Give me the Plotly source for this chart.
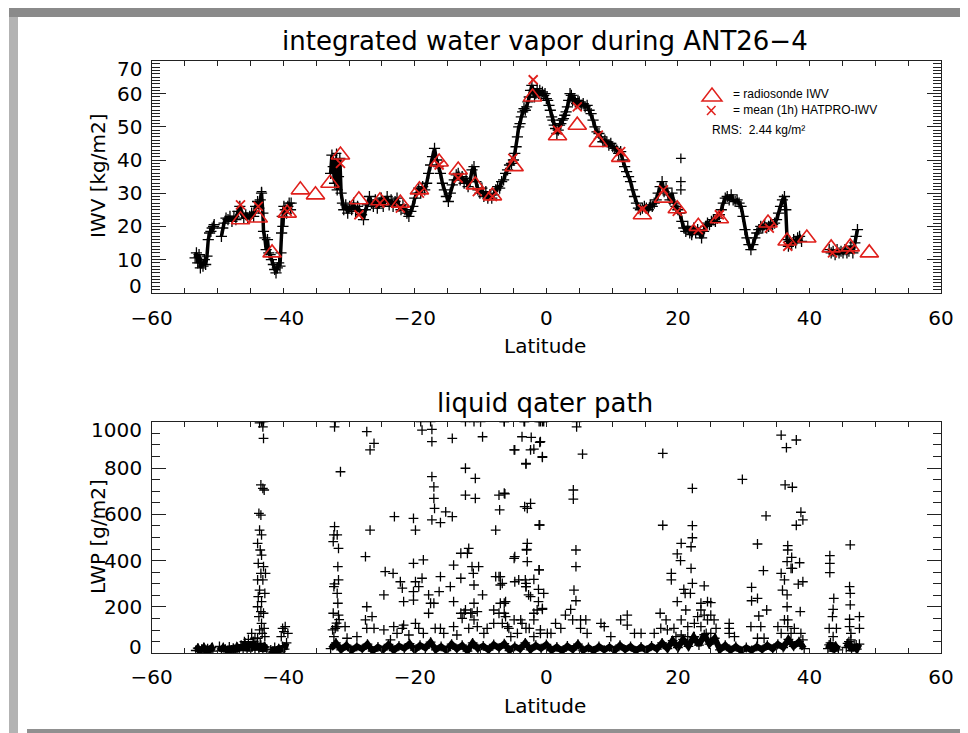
import plotly.graph_objects as go

# window is 968x733; the page puts the figure 8 px from the top-left corner
OFF = 8
W, H = 968 - OFF, 733 - OFF


def fx(p):
    return (p - OFF) / W


def fy(p):
    return 1 - (p - OFF) / H


# ---------------- IWV (HATPRO, black plus markers) ----------------
iwv_lat = [
    -53.4, -53.2, -53.0, -52.8, -52.6, -52.4, -52.2, -52.0, -51.8, -51.6, -51.4, -51.2, -51.0, -50.8, -50.6, -50.5,
    None,
    -49.4, -49.2, -49.0, -48.7, -48.4, -48.1, -47.8, -47.5, -47.2, -46.9, -46.6, -46.3, -46.0, -45.7, -45.4, -45.1,
    -44.8, -44.5, -44.2, -43.9, -43.7, -43.5, -43.3, -43.1, -43.0, -42.8, -42.6, -42.4, -42.2, -42.0, -41.8, -41.5,
    -41.3, -41.1, -40.9, -40.7, -40.5, -40.35, -40.25, -40.15, -40.05, -39.9, -39.7, -39.5, -39.3, -39.1, -38.9, -38.8,
    None,
    -32.8, -32.6, -32.4, -32.2, -32.0, -31.8, -31.6, -31.4, -31.2, -31.0, -30.8, -30.5, -30.2, -29.9, -29.6, -29.3,
    -29.0, -28.7, -28.4, -28.1, -27.8, -27.5, -27.2, -26.9, -26.6, -26.3, -26.0, -25.7, -25.4, -25.1, -24.8, -24.5,
    -24.2, -23.9, -23.6, -23.3, -23.0, -22.7, -22.4, -22.1, -21.8, -21.5, -21.2, -20.9, -20.6, -20.3, -20.0, -19.7,
    -19.4, -19.1, -18.8, -18.5, -18.2, -17.9, -17.6, -17.3, -17.0, -16.7, -16.4, -16.1, -15.8, -15.5, -15.2, -14.9,
    -14.6, -14.3, -14.0, -13.7, -13.4, -13.1, -12.8, -12.5, -12.2, -11.9, -11.6, -11.3, -11.0, -10.7, -10.4, -10.1,
    -9.8, -9.5, -9.2, -8.9, -8.6, -8.3, -8.0, -7.7, -7.4, -7.1, -6.8, -6.5, -6.2, -5.9, -5.6, -5.3,
    -5.0, -4.8, -4.6, -4.4, -4.2, -4.0, -3.8, -3.6, -3.4, -3.2, -3.0, -2.8, -2.6, -2.4, -2.2, -2.0,
    -1.8, -1.6, -1.4, -1.2, -1.0, -0.8, -0.6, -0.4, -0.2, 0.0, 0.2, 0.4, 0.6, 0.8, 1.0, 1.2,
    1.4, 1.6, 1.8, 2.0, 2.2, 2.4, 2.6, 2.8, 3.0, 3.2, 3.4, 3.6, 3.8, 4.0, 4.2, 4.4,
    4.6, 4.8, 5.0, 5.3, 5.6, 5.9, 6.2, 6.5, 6.8, 7.1, 7.4, 7.7, 8.0, 8.3, 8.6, 8.9,
    9.2, 9.5, 9.8, 10.1, 10.4, 10.7, 11.0, 11.3, 11.6, 11.9, 12.2, 12.5, 12.8, 13.1, 13.4, 13.7,
    14.0, 14.3, 14.6, 14.9, 15.2, 15.5, 15.8, 16.1, 16.4, 16.7, 17.0, 17.3, 17.6, 17.9, 18.2, 18.5,
    18.8, 19.1, 19.4, 19.7, 20.0, 20.3, 20.6, 20.9, 21.2, 21.5, 21.8, 22.1, 22.4, 22.7, 23.0, 23.3,
    23.6, 23.9, 24.2, 24.5, 24.8, 25.1, 25.4, 25.7, 26.0, 26.3, 26.6, 26.9, 27.2, 27.5, 27.8, 28.1,
    28.4, 28.7, 29.0, 29.3, 29.6, 29.9, 30.2, 30.5, 30.8, 31.1, 31.4, 31.7, 32.0, 32.3, 32.6, 32.9,
    33.2, 33.5, 33.8, 34.1, 34.4, 34.7, 35.0, 35.3, 35.6, 35.9, 36.2, 36.4, 36.6, 36.8, 37.0, 37.3,
    37.6, 37.9, 38.2, 38.5, 38.8,
    None,
    43.0, 43.3, 43.6, 43.9, 44.2, 44.5, 44.8, 45.1, 45.4, 45.7, 46.0, 46.3, 46.6, 46.9, 47.1, 47.3,
]
iwv_val = [
    10.5, 12, 9, 11.5, 7.5, 9, 8, 10, 8.5, 11, 16, 18, 18.5, 19.5, 20, 20.5,
    None,
    17, 19.5, 21, 22.5, 22, 23, 21.5, 23, 22, 24.5, 26, 24, 22.5, 23.5, 22.5, 23,
    24, 23, 26, 27.5, 25.5, 28, 30, 24, 18.5, 16.5, 13, 16, 12, 11.5, 10, 8.5,
    7, 6, 7.5, 9, 8, 12, 18, 23, 20, 26, 25, 24, 26, 27, 25, 27,
    None,
    36, 41.5, 38, 33, 40, 31, 35, 40.5, 30, 27, 25, 26.5, 24, 26, 25, 27,
    24.5, 26, 25, 23.5, 22, 25, 26.5, 29, 27, 26, 28, 25.5, 27, 28.5, 26, 27.5,
    29, 26.5, 28, 26, 27.5, 28.5, 26, 25, 26.5, 25, 24, 23, 24.5, 26, 28.5, 30,
    31.5, 30, 32, 31, 33, 36, 38.5, 41, 43.5, 40, 38, 36, 33, 31, 29, 27.5,
    30, 32.5, 34, 35.5, 36, 34, 35, 33, 34.5, 32, 33.5, 37, 38, 33.5, 31, 30,
    31.5, 29, 30.5, 28.5, 29.5, 28.5, 29.5, 31, 32, 31.5, 33.5, 34, 36, 37, 38.5, 39,
    40, 42, 44, 47, 50, 51, 53, 54.5, 55.5, 55, 56, 57.5, 59, 61, 62.5, 61,
    59, 60, 61.5, 60, 61, 59.5, 60.5, 59.5, 60, 58.5, 58, 56.5, 55, 53, 52, 50.5,
    49.5, 48, 49, 50.5, 51, 52, 52.5, 53.5, 54.5, 56, 58, 60, 59.5, 58, 58.5, 57.5,
    57, 58, 57.5, 56.5, 57, 56, 56.5, 55, 54, 52, 50, 48.5, 48, 47, 45.5, 46,
    45.5, 44.5, 45, 44, 43.5, 43, 42, 42.5, 40, 38, 36.5, 35, 33.5, 31, 29, 27,
    25.5, 25, 25.5, 26, 25.5, 25, 26.5, 26, 27, 28, 30, 32, 33.5, 30.5, 31.5, 29.5,
    28, 30, 27, 26, 25, 24, 21.5, 19.5, 18.5, 20, 18, 17.5, 19.5, 18, 19, 18,
    16.5, 18.5, 20, 21, 20.5, 21.5, 22, 21.5, 22.5, 23.5, 25, 27, 28.5, 29, 28, 29.5,
    28, 27.5, 28, 27, 26, 23, 19, 16.5, 14.5, 13, 14.5, 16.5, 18, 19, 20, 19.5,
    20.5, 19.5, 20, 21, 20.5, 21, 22, 24, 26, 28, 29, 25, 16, 14, 15.5, 14.5,
    16, 15, 16.5, 17, 15.5,
    None,
    13, 12, 12.5, 11.5, 13, 12, 12.5, 12, 13, 12, 12.5, 14, 12, 15, 17, 19,
]
iwv_out_lat = [20.45, 20.45, 20.45, -43.3, -31.9]
iwv_out_val = [40.5, 33.5, 31, 30.5, 42]

# radiosonde IWV (red triangles)
sonde_lat = [-46.5, -43.8, -41.7, -39.4, -37.4, -35.1, -32.9, -31.3, -28.5, -25.3, -22.2, -19.3,
             -16.3, -13.4, -10.8, -8.2, -4.9, -2.1, 1.7, 4.7, 7.9, 11.3, 14.6, 17.8,
             19.9, 23.1, 26.3, 33.7, 36.6, 39.6, 43.3, 46.2, 49.1]
sonde_iwv = [22, 22.5, 12, 24, 31, 29.5, 33, 41.5, 28, 27.7, 27, 31,
             39.4, 37, 32.5, 29.2, 38, 59, 47.3, 50.5, 45.3, 40.8, 23.5, 28.5,
             25.3, 20, 22.3, 21, 15.6, 16.5, 13.5, 13.8, 12]

# mean (1h) HATPRO-IWV (red x)
hat_lat = [-46.5, -43.8, -39.4, -31.3, -28.5, -25.3, -22.2, -19.3, -16.3, -13.4, -10.5, -8.2,
           -5.1, -2.0, 1.7, 4.7, 7.9, 11.3, 14.6, 17.8, 19.9, 23.1, 26.3, 33.9,
           36.7, 43.5, 46.2]
hat_iwv = [26.5, 26, 24.5, 39, 23.5, 27, 25.5, 30, 38.5, 34.5, 30.5, 29,
           40.5, 64.2, 49, 56, 47.5, 42.5, 25.2, 31, 24.5, 19, 23.5, 19.5,
           14, 12, 13]

# ---------------- LWP ----------------
lwp_base_lat = [
    -53.3, -53.0, -52.7, -52.4, -52.1, -51.8, -51.5, -51.2, -50.9, -50.7,
    None,
    -49.7, -49.4, -49.1, -48.8, -48.5, -48.2, -47.9, -47.6, -47.3, -47.0, -46.7, -46.4, -46.1,
    -45.8, -45.5, -45.2, -44.9, -44.6, -44.3, -44.0, -43.7, -43.4, -43.1, -42.8, -42.5,
    None,
    -41.9, -41.6, -41.3, -41.0, -40.7, -40.4, -40.1, -39.8, -39.5,
    None,
    -32.8, -32.0, -31.2, -30.4, -29.6, -28.8, -28.0, -27.2, -26.4, -25.6, -24.8, -24.0, -23.2,
    -22.4, -21.6, -20.8, -20.0, -19.2, -18.4, -17.6, -16.8, -16.0, -15.2, -14.4, -13.6, -12.8,
    -12.0, -11.2, -10.4, -9.6, -8.8, -8.0, -7.2, -6.4, -5.6, -4.8, -4.0, -3.2, -2.4, -1.6,
    -0.8, 0.0, 0.8, 1.6, 2.4, 3.2, 4.0, 4.8, 5.6, 6.4, 7.2, 8.0, 8.8, 9.6, 10.4, 11.2, 12.0,
    12.8, 13.6, 14.4, 15.2, 16.0, 16.8, 17.6, 18.4, 19.2, 20.0, 20.8, 21.6, 22.4, 23.2, 24.0,
    24.8, 25.6, 26.4, 27.2, 28.0, 28.8, 29.6, 30.4, 31.2, 32.0, 32.8, 33.6, 34.4, 35.2, 36.0,
    36.8, 37.6, 38.4, 39.2,
    None,
    42.8, 43.2, 43.6, 44.0, 44.4,
    None,
    45.6, 46.0, 46.4, 46.8, 47.2, 47.6,
]
lwp_base_val = [
    12, 22, 8, 18, 25, 10, 20, 14, 24, 9,
    None,
    30, 12, 25, 18, 10, 28, 15, 22, 8, 26, 14, 35, 20,
    45, 12, 30, 25, 50, 15, 40, 20, 35, 10, 28, 18,
    None,
    15, 5, 25, 10, 20, 8, 30, 18, 45,
    None,
    20, 45, 15, 35, 12, 30, 18, 40, 10, 28, 15, 38, 12,
    32, 20, 42, 14, 35, 22, 48, 15, 30, 12, 40, 18, 35,
    10, 45, 20, 32, 14, 38, 22, 42, 12, 30, 18, 45, 15, 35,
    20, 38, 12, 28, 10, 32, 15, 40, 12, 26, 10, 30, 14, 28, 12, 35, 15,
    30, 10, 28, 12, 32, 18, 45, 20, 55, 25, 60, 30, 70, 35, 80,
    40, 65, 15, 35, 12, 30, 10, 25, 12, 30, 15, 35, 18, 40, 25,
    60, 30, 50, 20,
    None,
    20, 45, 10, 30, 15,
    None,
    25, 50, 12, 35, 18, 40,
]

lwp_lat = [
    # spike near -43
    -43.3, -43.6, -43.0, -43.1, -43.0, -43.4, -43.1, -42.9, -43.7, -43.4, -43.6, -43.3, -43.9, -43.5,
    -43.3, -43.8, -43.0, -43.4, -42.7, -43.9, -43.1, -43.6, -42.8, -43.8, -43.3, -43.9, -43.4, -43.0,
    -43.7, -43.3, -42.9, -43.6, -43.2, -43.9, -42.8, -43.5, -44.3, -44.5, -45.3, -44.8, -45.9,
    -40.3, -40.1, -39.7, -39.9, -39.3,
    # spike near -32
    -32.1, -32.2, -32.2, -32.3, -31.8, -32.4, -31.6, -31.7, -31.6, -32.2, -32.3, -31.8, -31.7, -32.4,
    -31.6, -32.0, -31.3, -32.5, -31.9, -31.5,
    # scattered high values
    -19.1, -17.6, -12.3, -11.0, -10.0, -6.4, -3.4, -0.9, -0.4,
    -18.9, -17.4, -17.4, -14.3, -9.7, -3.7, -2.4, -0.9, -0.6, -3.1, -4.9,
    -27.3, -26.8, -26.2,
    -17.4, -17.1, -17.1, -17.0, -17.4, -16.1, -15.3, -14.3,
    -12.3, -12.3, -10.8, -10.8,
    -7.2, -6.4, -7.1, -7.7,
    -2.9, -3.3, -2.4, -1.1,
    -26.8, -27.5, -23.1, -20.2, -19.9, -18.7,
    -24.5, -23.3, -22.2, -21.9, -21.7, -24.7, -20.2, -19.9, -19.4, -18.9, -20.2, -20.2,
    -14.6, -14.1, -14.1, -16.1, -16.3, -17.1, -17.9, -13.0, -13.0, -12.0, -11.8, -11.3, -11.1, -11.0,
    -10.3, -9.7, -12.5, -12.8, -11.5, -11.0, -10.5,
    -7.7, -7.2, -6.7, -7.0, -6.2, -8.0, -6.4, -4.9, -4.2, -3.1, -3.1, -3.0, -2.9,
    -2.4, -1.9, -1.4, -1.1, -0.6, -0.4,
    # right half
    -6.4, -3.3, -1.1, -0.6, 4.6,
    -4.8, -2.3, -1.9, -1.0, -0.6, -3.1, 4.6, 5.5, 17.7, 35.7, 36.5, 38.0,
    29.8, 22.2, 4.1, 4.1, 36.3, 37.4, -6.3,
    33.4, 38.7, 39.0, 38.0, 17.7, 22.2, -1.0, 22.2, 22.0, 20.5, 19.9, 20.4, 19.0, 19.0, 22.0, 22.2,
    24.0, 20.9, 21.1, 19.9, 21.2, 21.9, 23.5, 24.5, 25.0,
    4.5, 4.5, 4.2, 4.5, 3.7, 5.2, -4.8, -3.0, -2.9, -1.1, -3.2, -3.1, -2.7, -1.2, -1.2, -0.6, -1.9,
    32.1, 33.0, 31.2, 31.2, 32.1, 33.5, 32.3, 31.1, 35.7, 36.2, 35.9, 36.7, 36.7, 36.6, 37.2, 37.3,
    37.4, 38.5, 38.3, 39.0, 38.6, 36.6, 36.6, 36.7, 27.8,
    43.1, 43.1, 43.1, 43.7, 43.6, 43.5, 43.0, 44.1, 43.6,
    46.2, 46.1, 46.2, 46.2, 46.1, 46.1, 47.6, 47.6, 46.3,
    -7.0, -7.0, -6.4, -6.2, -4.8,
    # medium values
    -32.3, -32.1, -31.7, -30.6, -30.3, -28.8, -27.5, -27.3, -27.3, -26.5, -26.2, -24.7, -23.7, -23.2,
    -22.7, -21.9, -21.7, -20.9, -19.9, -19.4, -18.7, -17.9, -17.6, -16.9, -16.1, -15.6, -14.1, -13.6,
    -13.0, -12.3, -11.8, -11.3, -11.0, -10.5, -9.5, -9.0, -8.0, -7.2, -6.7, -5.7, -4.9, -4.4, -3.7,
    -2.6, -1.9, -0.9, 0.15,
    -5.9, -5.4, -3.9, -3.1, -1.9, -0.9, 0.7, 1.4, 2.2, 2.9, 4.0, 5.2, 6.0, 6.2, 8.3, 8.8, 9.8, 11.3,
    12.3, 12.3, 13.4, 14.4, 16.4, 17.3, 17.4, 18.2, 18.4, 19.4, 20.5, 21.5, 22.5, 23.0, 23.5, 24.0,
    24.5, 25.0, 25.5, 25.8, 25.0, 24.3, 23.5, 22.5, 21.5, 20.5, 19.7, 27.8, 27.8, 28.6, 32.1, 32.6,
    33.1, 35.2, 35.7, 36.2, 36.7, 37.2, 37.7, 38.7, 39.0, 43.0, 43.8, 45.8, 46.3, 47.1,
]
lwp_val = [
    1000, 995, 1000, 978, 928, 727, 712, 705, 604, 597, 532, 511, 475, 446,
    424, 388, 374, 345, 345, 317, 317, 273, 259, 245, 223, 201, 180, 173,
    158, 129, 108, 101, 86, 65, 72, 43, 65, 50, 60, 86, 50,
    72, 108, 115, 94, 86,
    1000, 978, 547, 511, 511, 482, 453, 374, 317, 300, 288, 259, 216, 173,
    165, 115, 784, 101, 130, 145,
    1000, 1000, 1000, 1000, 1000, 1000, 1000, 1000, 1000,
    964, 967, 914, 928, 935, 935, 878, 914, 849, 820, 878,
    957, 878, 906,
    763, 719, 669, 626, 576, 564, 611, 590,
    799, 683, 755, 669,
    683, 691, 619, 532,
    626, 633, 647, 554,
    532, 417, 590, 583, 532, 403,
    353, 345, 309, 281, 223, 252, 388, 309, 288, 324, 266, 230,
    288, 381, 223, 331, 266, 216, 252, 324, 432, 432, 453, 374, 345, 295,
    374, 252, 173, 151, 173, 216, 180,
    331, 331, 302, 216, 223, 187, 173, 410, 317, 302, 288, 449, 475,
    245, 173, 187, 360, 194, 259,
    1000, 1000, 1000, 1000, 1000,
    878, 932, 882, 911, 846, 817, 978, 860, 863, 942, 888, 921,
    751, 712, 705, 666, 727, 717, 688,
    593, 609, 576, 553, 553, 551, 554, 499, 460, 475, 429, 400, 345, 317, 367, 302,
    291, 276, 259, 223, 187, 259, 216, 223, 219,
    446, 374, 273, 227, 190, 144, 417, 446, 396, 360, 317, 288, 252, 276, 223, 190, 319,
    472, 357, 285, 227, 237, 187, 161, 115, 345, 317, 273, 465, 446, 396, 367, 414,
    367, 391, 299, 309, 180, 252, 201, 144, 108,
    422, 388, 348, 237, 190, 158, 108, 108, 72,
    468, 288, 259, 209, 147, 115, 158, 108, 86,
    331, 295, 216, 158, 309,
    72, 108, 115, 115, 65, 72, 144, 201, 108, 158, 108, 101, 58, 115,
    86, 108, 122, 79, 129, 108, 86, 173, 216, 108, 108, 86, 115, 79,
    173, 187, 108, 173, 144, 115, 86, 108, 129, 173, 129, 108, 144, 86, 129,
    108, 72, 101, 86,
    115, 72, 144, 108, 144, 86, 86, 129, 108, 165, 144, 108, 144, 86, 129, 115, 72, 144,
    165, 122, 86, 86, 86, 173, 108, 144, 101, 108, 144, 115, 129, 158, 187, 165,
    144, 165, 144, 108, 86, 86, 115, 72, 72, 79, 72, 129, 86, 72, 65, 115,
    65, 115, 86, 144, 115, 86, 108, 86, 58, 36, 22, 43, 58, 36,
]

x_ticks = [-60, -40, -20, 0, 20, 40, 60]
iwv_ticks = [0, 10, 20, 30, 40, 50, 60, 70]
lwp_ticks = [0, 200, 400, 600, 800, 1000]

FONT = "DejaVu Sans"
RED = "#e0201c"
AX = "#222222"
plus = dict(symbol="cross-thin-open", size=7, color="black", line=dict(color="black", width=1.3))

fig = go.Figure()
fig.add_trace(go.Scatter(x=iwv_lat, y=iwv_val, mode="lines+markers", xaxis="x", yaxis="y",
                         line=dict(color="black", width=3.5), marker=dict(plus, size=8), connectgaps=False))
fig.add_trace(go.Scatter(x=iwv_out_lat, y=iwv_out_val, mode="markers", xaxis="x", yaxis="y", marker=plus))
fig.add_trace(go.Scatter(x=sonde_lat, y=sonde_iwv, mode="markers", xaxis="x", yaxis="y",
                         marker=dict(symbol="triangle-up-open", size=16, color=RED,
                                     line=dict(color=RED, width=1.6))))
fig.add_trace(go.Scatter(x=hat_lat, y=hat_iwv, mode="markers", xaxis="x", yaxis="y",
                         marker=dict(symbol="x-thin-open", size=9, color=RED,
                                     line=dict(color=RED, width=1.8))))
fig.add_trace(go.Scatter(x=lwp_base_lat, y=lwp_base_val, mode="lines+markers", xaxis="x2", yaxis="y2",
                         line=dict(color="black", width=6), marker=plus, connectgaps=False))
fig.add_trace(go.Scatter(x=lwp_lat, y=lwp_val, mode="markers", xaxis="x2", yaxis="y2", marker=plus))

common = dict(showline=True, linecolor=AX, linewidth=1, mirror="ticks", ticks="inside", tickcolor=AX,
              showgrid=False, zeroline=False, automargin=False,
              tickfont=dict(family=FONT, size=20, color="black"))
xdom = [fx(151.7), fx(941)]
fig.update_layout(
    width=W, height=H, margin=dict(l=0, r=0, t=0, b=0, pad=0, autoexpand=False),
    paper_bgcolor="white", plot_bgcolor="white", showlegend=False,
    xaxis=dict(domain=xdom, range=[-60, 60], tickvals=x_ticks, ticklen=5, anchor="y", ticklabelstandoff=7,
               minor=dict(dtick=5, tick0=0, ticklen=5, ticks="inside", tickcolor=AX), **common),
    yaxis=dict(domain=[fy(292.7), fy(60.5)], range=[0, 70], tickvals=iwv_ticks, ticklen=14, anchor="x",
               showticklabels=False,
               minor=dict(dtick=1, tick0=0, ticklen=8, ticks="inside", tickcolor=AX), **common),
    xaxis2=dict(domain=xdom, range=[-60, 60], tickvals=x_ticks, ticklen=5, anchor="y2", ticklabelstandoff=6,
                minor=dict(dtick=5, tick0=0, ticklen=5, ticks="inside", tickcolor=AX), **common),
    yaxis2=dict(domain=[fy(653.3), fy(421.7)], range=[0, 1000], tickvals=lwp_ticks, ticklen=14, anchor="x2",
                showticklabels=False,
                minor=dict(dtick=50, tick0=0, ticklen=8, ticks="inside", tickcolor=AX), **common),
)

ann = []


def text(t, x, y, size, xanchor="center", color="black", family=FONT, angle=0):
    ann.append(dict(text=t, x=fx(x), y=fy(y), xref="paper", yref="paper", xanchor=xanchor,
                    yanchor="middle", showarrow=False, textangle=angle,
                    font=dict(family=family, size=size, color=color)))


# y tick labels (end labels kept inside the frame, as in the original)
for ticks, yref in ((iwv_ticks, "y"), (lwp_ticks, "y2")):
    for i, v in enumerate(ticks):
        shift = 6.5 if i == 0 else (-8 if i == len(ticks) - 1 else 0)
        ann.append(dict(text=str(v), x=fx(144), xref="paper", y=v, yref=yref, xanchor="right",
                        yanchor="middle", yshift=shift, showarrow=False,
                        font=dict(family=FONT, size=20, color="black")))

text("integrated water vapor during ANT26\u22124", 545, 41, 26)
text("Latitude", 545, 346, 20)
text("IWV [kg/m2]", 98, 176, 20, angle=-90)
text("liquid qater path", 545, 403, 26)
text("Latitude", 545, 706, 20)
text("LWP [g/m2]", 98, 537, 20, angle=-90)
LEG = "Liberation Sans, Arial, sans-serif"
text("= radiosonde IWV", 731, 94, 12, xanchor="left", family=LEG)
text("= mean (1h) HATPRO-IWV", 731, 110, 12, xanchor="left", family=LEG)
text("RMS:  2.44 kg/m\u00b2", 710, 130, 12, xanchor="left", family=LEG)
fig.update_layout(annotations=ann)


def ppath(points):
    return "M " + " L ".join(f"{fx(x):.5f},{fy(y):.5f}" for x, y in points)


shapes = [
    dict(type="rect", xref="paper", yref="paper", x0=fx(9), x1=1, y0=fy(17), y1=fy(8),
         fillcolor="#8a8a8a", line=dict(width=0)),
    dict(type="rect", xref="paper", yref="paper", x0=fx(9), x1=fx(18), y0=0, y1=fy(17),
         fillcolor="#b3b3b3", line=dict(width=0)),
    dict(type="rect", xref="paper", yref="paper", x0=fx(27), x1=1, y0=0, y1=fy(729),
         fillcolor="#909090", line=dict(width=0)),
    # legend symbols
    dict(type="path", xref="paper", yref="paper", path=ppath([(702, 101), (722, 101), (712, 88)]) + " Z",
         line=dict(color=RED, width=1.5)),
    dict(type="line", xref="paper", yref="paper", x0=fx(707), y0=fy(106), x1=fx(715.5), y1=fy(115),
         line=dict(color=RED, width=1.5)),
    dict(type="line", xref="paper", yref="paper", x0=fx(707), y0=fy(115), x1=fx(715.5), y1=fy(106),
         line=dict(color=RED, width=1.5)),
]
fig.update_layout(shapes=shapes)

fig.write_html("out.html")
